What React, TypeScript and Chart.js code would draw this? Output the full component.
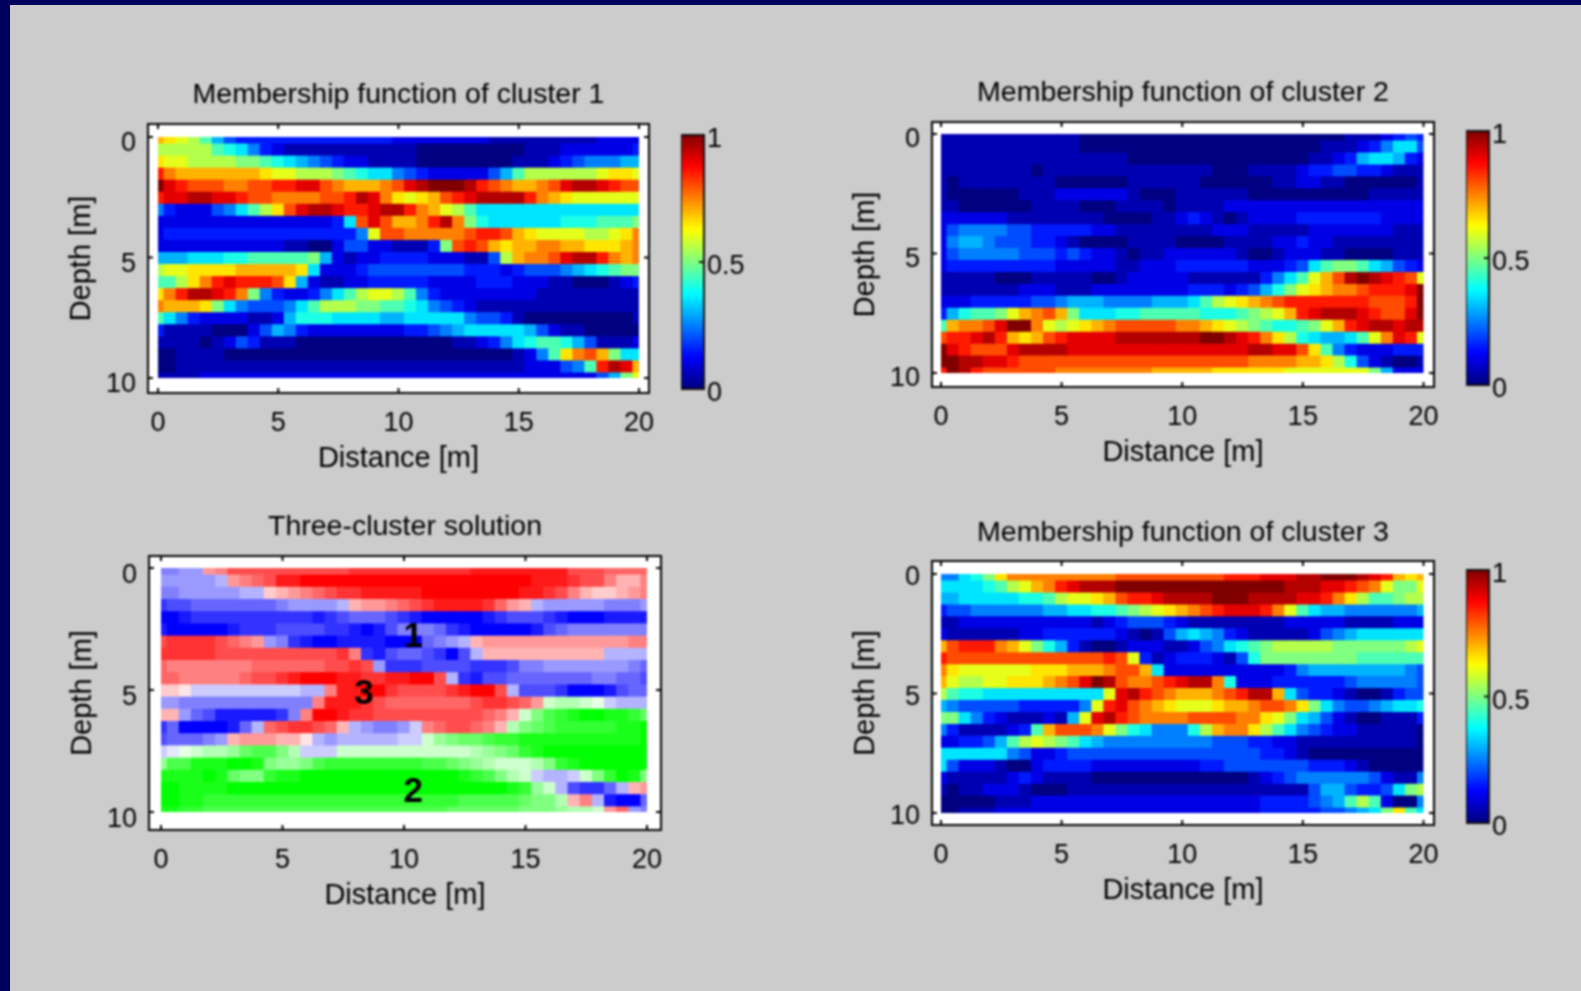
import React, { useEffect, useRef } from "react";
import { Chart, registerables } from "chart.js";

Chart.register(...registerables);

// Cell coding for membership rows: one base-21 character per cell, value = digit / 20.
const cluster1Rows = [
  "edcb964333 3333333333 2222222211 1111111222 2",
  "bbbbb98753 2111111111 1100000000 0111222222 3",
  "dccbbbbaa9 8765432211 1100000000 1112345556 6",
  "hfeeeeeeed ccbbba9877 5432222246 9bbbbbbcdd c",
  "kihgggffgg hhiigfeeef gijkkkjhgf eefgijjihg g",
  "hiijjiihgg ffffgghjif dcdeghijjj jhfedccccc c",
  "532224579b dgijjihhij jhfecb9777 7777777777 7",
  "2222222222 2222237gig eefhjfa877 7777888999 a",
  "2333333333 33333335cg gfffffghhg edccccbbcd f",
  "2222222222 2110024422 1113aghged eeffeeddde f",
  "6667778899 999a621223 333222114b effgijjhfe f",
  "bccddddeee eed7222344 4444443332 344456789a a",
  "99bdfhihhh gd62112233 3332222333 2221100012 3",
  "dfhjjihfa5 3223579bcc b953222222 2211111111 1",
  "feeeda7544 4579bbbaa9 9875432111 1111111111 1",
  "9753222211 2688877776 6777775443 1000000000 1",
  "3111100024 6532222222 2334567777 7642110000 0",
  "1111012431 1100000000 0000011235 7899864111 2",
  "0011110000 0000000000 0000000000 1259dfgea7 7",
  "0011111111 1111111111 1111111111 1222459hji e",
  "1111222222 2222222222 2222222222 222222246a c",
];

const cluster2Rows = [
  "1111111111 1100000000 0000000000 0000111234 3",
  "1111111111 1100000000 0000000000 0011123577 4",
  "1111111111 1111110000 0000000000 0112367763 2",
  "1111111101 1111111111 1110001111 2334433211 1",
  "1011111111 0000001111 1100000011 2211000000 1",
  "1000000111 2222221000 1111110000 0000001111 1",
  "1100000011 1100011110 1111222222 2222222222 2",
  "2222221111 1111000011 2321012222 3333333222 2",
  "2455554433 3332211111 1112221111 1222222211 1",
  "2566544433 2100001111 0000111122 3221111111 1",
  "2455555444 3432210112 2222210012 2211000011 1",
  "2333333333 2222211222 3333332223 479aa97643 2",
  "1111100011 1110012222 2111111357 9cegjkjihg c",
  "1111111222 1112222222 233323468a cdeffghhhi k",
  "2223333344 5666555566 679bcdefgh hhhhhhgggh k",
  "36899acefg ea77788999 998889abce hijjjihggi k",
  "9effgikkfc bcdefggggg ffedcba988 9acehijjij j",
  "ghhijhedeg hiiiijjjjj jjkkjihfdb 876679cfih c",
  "kihgggijjj jiiiiiiiii iiiiiijjii gd95322233 3",
  "kkjjiihggg gggggggggg ggggggffff eedb842100 1",
  "hkjhgggggg ffffffffee eeeddddddc cccccca622 2",
];

const cluster3Rows = [
  "5578adffff fffffggggg gggghhhiii jjkkkjihed e",
  "777789bcef hijjjkkkkk kkkkkkkkkj jjiihgfcaa c",
  "6677777889 bccdeghhij jjjkkkjjjj iihfdb99ab b",
  "3445555556 677889abcd efghiiihfc 9766555555 6",
  "1122222222 2221234443 2111111112 2222111122 2",
  "2111111223 3333321014 6765321111 1245677777 7",
  "eghhhfeca8 6310012221 1245789abb bbbaaaaaab c",
  "hggggggggg gggghgc312 3332148aaa aaaaa99999 9",
  "fdccccccdd deeefgge72 2222222223 5666666665 4",
  "ecbbccddde fgikjgffgh ijjf822233 3333455555 4",
  "b988777777 7777cijhgf eeefghjje7 4332100134 4",
  "6544444333 335chigfed cccdeefggf da75445677 8",
  "aa75321112 16cijhgfff fggggffdca 7642100111 3",
  "531111239e gggfca8755 58beffdb97 5432211111 0",
  "2233469bcb a976555555 5554443322 1111111111 0",
  "7777775422 3444444444 4444444332 1000000000 0",
  "7422210023 3332222222 2233444444 4333210000 0",
  "2111112321 1110000000 0000001234 5555554211 5",
  "1011222100 0111111111 1111111111 146643347a b",
  "0000011122 2222222222 2222222333 34569b9200 5",
  "0011122222 2222222222 2222222333 3344567ad9 7",
];

// Solution rows: a-j = cluster 1 (blue), 0-9 = cluster 2 (green), A-J = cluster 3 (red);
// the position in the family is how pale the cell is (first = pure, last = nearly white).
const solutionRows = [
  "ffggGFDDDD DDDDDDCCCC CCCCCCBBBB BBBBDDDEEE E",
  "ggggghGFED BBAAAAAAAA AAAAAAAAAA ABBBCDDFHH F",
  "ffggggghhI HGFEDCCBBB BBAAAAAAAA BBCDFHIIHG F",
  "cddeeeeeee fgggghHGGF EDCBBBBCEG Hhgggggfff g",
  "aabccccccc cccbcdeeed cbaaaaabcd ddcbaaabbb b",
  "baaaaabccc ddddccbabd fffecbaaaa abdeffffff f",
  "DCCCCDEFGg fcbaabbbba aaefghHGGG GGGGGGGGGF F",
  "CCCCCDDDDD DDDDDCFcbd eedcadhHHH HHHHHHHhhh h",
  "EFFFFFFFEE EEEEDDCDgc ccddddcccd ffgggggggf e",
  "EEFFFFFEDD CBAAABBCCB BAADhcbdde eeeeeeffee d",
  "IIJiiiiiii iihhFBBAAC DDDDCBAADh dddcaaabde e",
  "ggffffffff fffFBBBCDE EEEEEEDCCD EG87789ihh h",
  "HHgedbbbbb cfFAABCCDD DDDDDDDEFH 8532100112 4",
  "ceaaaabehE DCCDEHhgff giFEDDEFH7 5432222211 0",
  "deeefgHGGG HHJhghhhhh ii86544322 1111111111 0",
  "ij98776433 57iii88888 8888887654 2100000000 0",
  "6331110015 6653222222 2233456788 8752100000 0",
  "1111014552 1100000000 0000012357 8ihhi85201 5",
  "0011110000 0000000000 0000000001 268hdccehH G",
  "0011222222 2222222222 2222233333 4557HFhbaa e",
  "1122333333 3333333333 3333444444 5556778GEg f",
];

const distanceTicks = [0, 5, 10, 15, 20];
const depthTicks = [0, 5, 10];
const colorbarTicks = [0, 0.5, 1];
const clusterMarks = [
  { text: "1", distance: 10.38, depth: 2.83 },
  { text: "3", distance: 8.35, depth: 5.18 },
  { text: "2", distance: 10.38, depth: 9.18 },
];
const titles = [
  "Membership function of cluster 1",
  "Membership function of cluster 2",
  "Three-cluster solution",
  "Membership function of cluster 3",
];

const CELL_X = 0.5;
const CELL_Y = 0.5;
const FONT = "'Liberation Sans', Arial, sans-serif";
const INK = "#000000";
const Y_AXIS_W = 90;
const X_AXIS_H = 90;
const TITLE_BLOCK_H = 60;

const jet = (v: number) => {
  const ch = (c: number) => Math.round(255 * Math.max(0, Math.min(1, c)));
  const r = 1.5 - Math.abs(4 * v - 3);
  const g = 1.5 - Math.abs(4 * v - 2);
  const b = 1.5 - Math.abs(4 * v - 1);
  return `rgb(${ch(r)},${ch(g)},${ch(b)})`;
};

const memberColor = (c: string) => jet(parseInt(c, 36) / 20);

const solutionColor = (c: string) => {
  const pale = (i: number) => Math.round(255 * (i / 10));
  if (c >= "0" && c <= "9") {
    const p = pale(+c);
    return `rgb(${p},255,${p})`;
  }
  if (c >= "a" && c <= "j") {
    const p = pale(c.charCodeAt(0) - 97);
    return `rgb(${p},${p},255)`;
  }
  const p = pale(c.charCodeAt(0) - 65);
  return `rgb(255,${p},${p})`;
};

type Rect = { l: number; r: number; t: number; b: number };

const clean = (row: string) => row.replace(/ /g, "");

const heatDatasets = (rows: string[], colorOf: (c: string) => string) =>
  rows.map((raw, r) => {
    const row = clean(raw);
    const depth = r * CELL_Y;
    return {
      data: row.split("").map((_, i) => ({ x: i * CELL_X, y: [depth - CELL_Y / 2, depth + CELL_Y / 2] })),
      backgroundColor: row.split("").map(colorOf),
    };
  });

function HeatPanel({ rows, colorOf, title, box, heat, marks, titleGap, labelOffset }: any) {
  const ref = useRef<HTMLCanvasElement>(null);
  const left = box.l - Y_AXIS_W;
  const width = Y_AXIS_W + (box.r - box.l) + 30;
  const height = TITLE_BLOCK_H + (box.b - box.t) + X_AXIS_H;
  useEffect(() => {
    const pxX = (heat.r - heat.l) / 20;
    const pxY = (heat.b - heat.t) / 10;
    const axisFont = { family: FONT, size: 27 };
    const frame = {
      id: "frame",
      beforeDatasetsDraw(c: any) {
        const { ctx, chartArea: a } = c;
        ctx.save();
        ctx.fillStyle = "#ffffff";
        ctx.fillRect(a.left, a.top, a.right - a.left, a.bottom - a.top);
        ctx.restore();
      },
      afterDatasetsDraw(c: any) {
        const { ctx, chartArea: a, scales } = c;
        ctx.save();
        ctx.strokeStyle = "#000";
        ctx.lineWidth = 2;
        ctx.strokeRect(a.left, a.top, a.right - a.left, a.bottom - a.top);
        ctx.beginPath();
        const len = 5;
        distanceTicks.forEach((v) => {
          const x = scales.x.getPixelForValue(v);
          ctx.moveTo(x, a.top);
          ctx.lineTo(x, a.top + len);
          ctx.moveTo(x, a.bottom);
          ctx.lineTo(x, a.bottom - len);
        });
        depthTicks.forEach((v) => {
          const y = scales.y.getPixelForValue(v);
          ctx.moveTo(a.left, y);
          ctx.lineTo(a.left + len, y);
          ctx.moveTo(a.right, y);
          ctx.lineTo(a.right - len, y);
        });
        ctx.stroke();
        (marks || []).forEach((m: any) => {
          ctx.fillStyle = "#000";
          ctx.font = `bold 35px ${FONT}`;
          ctx.textAlign = "center";
          ctx.textBaseline = "middle";
          ctx.fillText(m.text, scales.x.getPixelForValue(m.distance), scales.y.getPixelForValue(m.depth));
        });
        ctx.restore();
      },
    };
    const chart = new Chart(ref.current as HTMLCanvasElement, {
      type: "bar",
      data: {
        datasets: heatDatasets(rows, colorOf).map((d) => ({
          ...d,
          barPercentage: 1,
          categoryPercentage: 1,
          grouped: false,
          borderWidth: 0,
          inflateAmount: 0.5,
          clip: {
            left: -(heat.l - box.l),
            right: -(box.r - heat.r),
            top: -(heat.t - box.t),
            bottom: -(box.b - heat.b),
          },
        })),
      } as any,
      plugins: [frame],
      options: {
        responsive: false,
        animation: false,
        events: [],
        layout: { autoPadding: false, padding: { left: 0, top: 0, bottom: 0, right: 30 } },
        plugins: {
          legend: { display: false },
          tooltip: { enabled: false },
          title: {
            display: true,
            fullSize: false,
            text: title,
            color: INK,
            font: { family: FONT, size: 28.5, weight: "normal", lineHeight: 1.2 },
            padding: { top: TITLE_BLOCK_H - 34.2 - titleGap, bottom: titleGap },
          },
        },
        scales: {
          x: {
            type: "linear",
            offset: false,
            min: -(heat.l - box.l) / pxX,
            max: 20 + (box.r - heat.r) / pxX,
            afterBuildTicks: (s: any) => {
              s.ticks = distanceTicks.map((value) => ({ value }));
            },
            afterFit: (s: any) => {
              s.height = X_AXIS_H;
            },
            grid: { display: false, drawTicks: false },
            border: { display: false },
            ticks: { color: INK, font: axisFont, padding: 14, maxRotation: 0, autoSkip: false, callback: (v: any) => String(v) },
            title: { display: true, text: "Distance [m]", color: INK, font: { family: FONT, size: 29, lineHeight: 1.2 }, padding: { top: 0, bottom: 7 } },
          },
          y: {
            type: "linear",
            reverse: true,
            min: -(heat.t - box.t) / pxY,
            max: 10 + (box.b - heat.b) / pxY,
            afterBuildTicks: (s: any) => {
              s.ticks = depthTicks.map((value) => ({ value }));
            },
            afterFit: (s: any) => {
              s.width = Y_AXIS_W;
            },
            grid: { display: false, drawTicks: false },
            border: { display: false },
            ticks: { color: INK, font: axisFont, padding: 12, labelOffset, autoSkip: false, callback: (v: any) => String(v) },
            title: { display: true, text: "Depth [m]", color: INK, font: { family: FONT, size: 29, lineHeight: 1.2 }, padding: { top: 7, bottom: 0 } },
          },
        },
      } as any,
    });
    return () => chart.destroy();
  }, []);
  return (
    <canvas
      ref={ref}
      width={width}
      height={height}
      style={{ position: "absolute", left, top: box.t - TITLE_BLOCK_H, width, height }}
    />
  );
}

function ColorBar({ rect }: { rect: Rect }) {
  const ref = useRef<HTMLCanvasElement>(null);
  const LABEL_W = 70;
  const PAD = 25;
  const width = rect.r - rect.l + LABEL_W;
  const height = rect.b - rect.t + PAD * 2;
  useEffect(() => {
    const levels = Array.from({ length: 64 }, (_, i) => i / 64);
    const outline = {
      id: "outline",
      afterDatasetsDraw(c: any) {
        const { ctx, chartArea: a, scales } = c;
        ctx.save();
        ctx.strokeStyle = "#111";
        ctx.lineWidth = 2;
        ctx.strokeRect(a.left, a.top, a.right - a.left, a.bottom - a.top);
        ctx.beginPath();
        colorbarTicks.forEach((v) => {
          const y = scales.y.getPixelForValue(v);
          ctx.moveTo(a.right, y);
          ctx.lineTo(a.right - 5, y);
        });
        ctx.stroke();
        ctx.restore();
      },
    };
    const chart = new Chart(ref.current as HTMLCanvasElement, {
      type: "bar",
      data: {
        labels: [""],
        datasets: levels.map((v) => ({
          data: [[v, v + 1 / 64]],
          backgroundColor: jet(v + 1 / 128),
          barPercentage: 1,
          categoryPercentage: 1,
          grouped: false,
          borderWidth: 0,
          inflateAmount: 0.5,
        })),
      } as any,
      plugins: [outline],
      options: {
        responsive: false,
        animation: false,
        events: [],
        layout: { autoPadding: false, padding: { left: 0, right: 0, top: PAD, bottom: PAD } },
        plugins: { legend: { display: false }, tooltip: { enabled: false } },
        scales: {
          x: { display: false },
          y: {
            position: "right",
            min: 0,
            max: 1,
            afterBuildTicks: (s: any) => {
              s.ticks = colorbarTicks.map((value) => ({ value }));
            },
            afterFit: (s: any) => {
              s.width = LABEL_W;
            },
            grid: { display: false, drawTicks: false },
            border: { display: false },
            ticks: { color: INK, font: { family: FONT, size: 27 }, padding: 3, labelOffset: 5, callback: (v: any) => String(v) },
          },
        },
      } as any,
    });
    return () => chart.destroy();
  }, []);
  return (
    <canvas
      ref={ref}
      width={width}
      height={height}
      style={{ position: "absolute", left: rect.l, top: rect.t - PAD, width, height }}
    />
  );
}

export default function App() {
  return (
    <div style={{ position: "fixed", left: 0, top: 0, width: 1581, height: 991, background: "#000060", overflow: "hidden" }}>
      <div style={{ position: "absolute", left: 10, top: 5, right: 0, bottom: 0, background: "#cccccc" }} />
      <div style={{ position: "absolute", inset: 0, filter: "blur(0.9px)" }}>
        <HeatPanel rows={cluster1Rows} colorOf={memberColor} title={titles[0]} titleGap={12} labelOffset={7}
          box={{ l: 148, r: 649, t: 124, b: 393 }} heat={{ l: 158, r: 639, t: 137, b: 378 }} />
        <HeatPanel rows={cluster2Rows} colorOf={memberColor} title={titles[1]} titleGap={12} labelOffset={6}
          box={{ l: 932, r: 1434, t: 122, b: 387 }} heat={{ l: 941, r: 1423.5, t: 134, b: 373 }} />
        <HeatPanel rows={solutionRows} colorOf={solutionColor} title={titles[2]} titleGap={12} labelOffset={8} marks={clusterMarks}
          box={{ l: 149, r: 661, t: 556, b: 830 }} heat={{ l: 161, r: 647, t: 568, b: 812 }} />
        <HeatPanel rows={cluster3Rows} colorOf={memberColor} title={titles[3]} titleGap={11} labelOffset={4}
          box={{ l: 932, r: 1434, t: 561, b: 825 }} heat={{ l: 941, r: 1423.5, t: 574, b: 813 }} />
        <ColorBar rect={{ l: 681, r: 704, t: 135, b: 389 }} />
        <ColorBar rect={{ l: 1466, r: 1489, t: 131, b: 385 }} />
        <ColorBar rect={{ l: 1466, r: 1489, t: 570, b: 823 }} />
      </div>
    </div>
  );
}
